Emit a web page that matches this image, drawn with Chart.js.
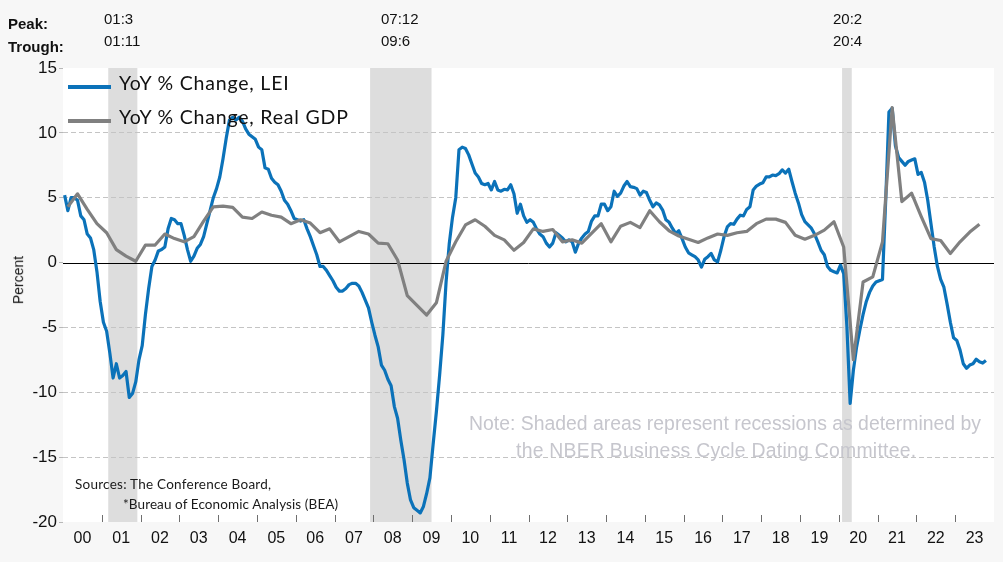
<!DOCTYPE html>
<html><head><meta charset="utf-8">
<script src="https://cdn.jsdelivr.net/npm/chart.js@4.4.0/dist/chart.umd.min.js"></script>
<style>
html,body{margin:0;padding:0;background:#f7f7f7;}
#wrap{position:relative;width:1003px;height:562px;overflow:hidden;background:#f7f7f7;}
#c{position:absolute;left:0;top:0;}
.t{position:absolute;white-space:nowrap;line-height:1;color:#111;}
.hdr{font-family:"Liberation Sans",Arial,sans-serif;font-size:15px;}
.b{font-weight:bold;}
.leg{font-family:Lato,"Open Sans",sans-serif;font-size:19.5px;letter-spacing:0.8px;color:#111;}
.sw{position:absolute;width:43px;height:4px;}
.note{font-family:"Liberation Sans",Arial,sans-serif;font-size:19.4px;color:#c6c6cd;}
.src{font-family:Lato,"Open Sans",sans-serif;font-size:13.5px;letter-spacing:0.25px;color:#1a1a1a;}
.ytitle{font-family:"Liberation Sans",Arial,sans-serif;font-size:14px;color:#111;transform:rotate(-90deg);transform-origin:center center;}
</style></head>
<body>
<div id="wrap">
<canvas id="c" width="1003" height="562"></canvas>
<div class="t hdr b" style="left:8px;top:16px">Peak:</div>
<div class="t hdr b" style="left:8px;top:39px">Trough:</div>
<div class="t hdr" style="left:104px;top:11px">01:3</div>
<div class="t hdr" style="left:104px;top:33px">01:11</div>
<div class="t hdr" style="left:381px;top:11px">07:12</div>
<div class="t hdr" style="left:381px;top:33px">09:6</div>
<div class="t hdr" style="left:833px;top:11px">20:2</div>
<div class="t hdr" style="left:833px;top:33px">20:4</div>
<div class="sw" style="left:68px;top:85px;background:#0b72b9"></div>
<div class="sw" style="left:68px;top:119px;background:#808080"></div>
<div class="t leg" style="left:119px;top:73px">YoY % Change, LEI</div>
<div class="t leg" style="left:119px;top:107px">YoY % Change, Real GDP</div>
<div class="t note" style="left:469px;top:414px">Note: Shaded areas represent recessions as determined by</div>
<div class="t note" style="left:516px;top:441px;letter-spacing:0.25px">the NBER Business Cycle Dating Committee.</div>
<div class="t src" style="left:75px;top:478px">Sources: The Conference Board,</div>
<div class="t src" style="left:123px;top:498px;letter-spacing:0.1px">*Bureau of Economic Analysis (BEA)</div>
<div class="t ytitle" style="left:-6px;top:273px">Percent</div>
</div>
<script>
// Year tick labels (one per calendar year, 2000..2023)
const yearLabels = ['00','01','02','03','04','05','06','07','08','09','10','11','12','13','14','15','16','17','18','19','20','21','22','23'];

// NBER recessions (yy:mm)
const recessionPeaks = ['01:3','07:12','20:2'];
const recessionTroughs = ['01:11','09:6','20:4'];

// LEI, YoY % change, monthly from Jan 2000
const lei = [
  5.2, 4.0, 5.0, 5.0, 4.8, 3.6, 3.3, 2.2, 1.9, 1.0, -0.7, -3.0,
  -4.6, -5.3, -7.0, -8.9, -7.8, -8.9, -8.7, -8.4, -10.4, -10.1, -9.2, -7.5,
  -6.4, -4.0, -2.0, -0.3, 0.2, 0.9, 1.0, 1.2, 2.6, 3.4, 3.3, 3.0,
  3.0, 2.1, 1.0, 0.1, 0.5, 1.1, 1.4, 2.0, 3.0, 4.0, 5.0, 5.7,
  6.6, 8.0, 9.6, 11.0, 11.2, 11.0, 11.2, 10.9, 10.3, 9.9, 9.7, 9.5,
  8.9, 8.7, 7.3, 7.2, 6.5, 6.2, 6.0, 5.5, 4.8, 4.5, 4.0, 3.4,
  3.3, 3.2, 3.3, 2.6, 2.0, 1.3, 0.6, -0.3, -0.3, -0.6, -1.0, -1.4,
  -1.9, -2.2, -2.2, -2.0, -1.7, -1.6, -1.6, -1.8, -2.3, -2.9, -3.5, -4.6,
  -5.6, -6.5, -7.9, -8.3, -9.0, -9.5, -11.1, -12.0, -13.7, -15.2, -17.0, -18.3,
  -18.9, -19.1, -19.3, -18.8, -17.8, -16.6, -14.0, -11.5, -8.7, -5.6, -1.5, 1.5,
  3.5, 5.0, 8.7, 8.9, 8.8, 8.3, 7.6, 6.9, 6.6, 6.1, 6.0, 6.1,
  5.6, 6.25, 5.6, 5.5, 5.65, 5.6, 6.0, 5.3, 3.8, 4.5, 3.6, 3.1,
  3.3, 3.1, 2.6, 2.2, 2.0, 1.5, 1.2, 1.5, 2.3, 2.1, 1.9, 1.6,
  1.75, 1.6, 0.8, 1.5, 1.9, 2.2, 2.4, 3.2, 3.6, 3.6, 4.5, 4.5,
  4.0, 4.3, 5.5, 5.1, 5.35, 5.9, 6.25, 5.85, 5.8, 5.7, 5.2, 5.5,
  5.4, 4.8, 4.3, 4.6, 4.45, 4.05, 3.3, 3.1, 2.65, 2.25, 2.45, 1.85,
  1.2, 0.75, 0.6, 0.45, 0.2, -0.35, 0.25, 0.45, 0.7, 0.2, 0.05, 0.95,
  2.0, 2.75, 3.0, 2.95, 3.35, 3.65, 3.6, 4.1, 4.3, 5.6, 5.9, 6.05,
  6.15, 6.6, 6.6, 6.75, 6.7, 6.85, 7.15, 6.9, 7.2, 6.25, 5.35, 4.6,
  3.7, 3.15, 2.9, 2.65, 2.2, 1.6, 0.95, 0.6, -0.3, -0.6, -0.7, -0.8,
  -0.2, -0.85, -4.95, -10.85, -8.3, -6.5, -5.2, -4.0, -3.0, -2.3, -1.8, -1.5,
  -1.4, -1.3, 4.8, 11.6, 11.9, 9.0, 8.1, 7.8, 7.5, 7.8, 7.9, 8.0,
  6.8, 6.95, 6.2, 4.8, 3.0, 1.2, -0.3, -1.3, -1.9, -3.2, -4.6, -5.8,
  -6.0, -6.75, -7.8, -8.15, -7.9, -7.8, -7.45, -7.65, -7.75, -7.55
];

// Real GDP, YoY % change, quarterly from 2000 Q1
const gdp = [
  4.3, 5.3, 4.1, 3.0,
  2.3, 1.0, 0.5, 0.1,
  1.35, 1.35, 2.2, 1.85,
  1.6, 2.0, 3.2, 4.3,
  4.35, 4.25, 3.5, 3.4,
  3.9, 3.65, 3.5, 3.0,
  3.3, 3.05, 2.3, 2.6,
  1.6, 2.0, 2.4, 2.2,
  1.5, 1.45, 0.2, -2.55,
  -3.3, -4.05, -3.1, 0.1,
  1.6, 2.9, 3.3, 2.8,
  2.1, 1.75, 0.95, 1.55,
  2.6, 2.4, 2.55, 1.6,
  1.75, 1.5, 2.25, 3.0,
  1.6, 2.8, 3.1, 2.7,
  4.0, 3.15, 2.45, 2.05,
  1.8, 1.55, 1.9, 2.2,
  2.1, 2.3, 2.4, 3.0,
  3.35, 3.35, 3.1, 2.1,
  1.8, 2.1, 2.5, 3.15,
  1.2, -7.5, -1.5, -1.1,
  1.6, 11.95, 4.7, 5.35,
  3.55, 1.85, 1.7, 0.7,
  1.6, 2.35, 2.95
];

function ymToIndex(s){ const p = s.split(':'); return (+p[0])*12 + (+p[1]) - 1; }

const bandPlugin = {
  id: 'bands',
  beforeDraw(chart){
    const {ctx, chartArea:a, scales:{x}} = chart;
    ctx.save();
    ctx.fillStyle = '#ffffff';
    ctx.fillRect(a.left, a.top, a.right - a.left, a.bottom - a.top);
    ctx.fillStyle = '#dddddd';
    recessionPeaks.forEach((p, k) => {
      const x0 = x.getPixelForValue(ymToIndex(p) - 0.5);
      const x1 = x.getPixelForValue(ymToIndex(recessionTroughs[k]) + 0.5);
      ctx.fillRect(x0, a.top, x1 - x0, a.bottom - a.top);
    });
    ctx.restore();
  },
  beforeDatasetsDraw(chart){
    const {ctx, chartArea:a, scales:{x, y}} = chart;
    ctx.save();
    const y0 = Math.round(y.getPixelForValue(0)) + 0.5;
    ctx.strokeStyle = '#000';
    ctx.lineWidth = 1;
    ctx.beginPath(); ctx.moveTo(a.left, y0); ctx.lineTo(a.right, y0); ctx.stroke();
    ctx.strokeStyle = '#6f6f6f';
    for (let k = 1; k < yearLabels.length; k++) {
      const xp = Math.round(x.getPixelForValue(12*k - 0.5)) + 0.5;
      ctx.beginPath(); ctx.moveTo(xp, a.bottom); ctx.lineTo(xp, a.bottom - 7); ctx.stroke();
    }
    ctx.restore();
  }
};

new Chart(document.getElementById('c'), {
  type: 'line',
  data: {
    datasets: [
      { label: 'YoY % Change, LEI', data: lei.map((v,i)=>({x:i, y:v})),
        borderColor: '#0b72b9', borderWidth: 3.2, pointRadius: 0, tension: 0, order: 1,
        borderJoinStyle: 'round' },
      { label: 'YoY % Change, Real GDP', data: gdp.map((v,q)=>({x:3*q+1, y:v})),
        borderColor: '#808080', borderWidth: 3.2, pointRadius: 0, tension: 0, order: 0,
        borderJoinStyle: 'round' }
    ]
  },
  options: {
    responsive: false, animation: false, devicePixelRatio: 1,
    layout: { padding: { top: 68, right: 9, left: 0, bottom: 0 } },
    plugins: { legend: { display: false }, tooltip: { enabled: false } },
    scales: {
      x: {
        type: 'linear', min: -0.5, max: 287.5,
        afterBuildTicks(s){ s.ticks = yearLabels.map((_,k)=>({value: 12*k + 5.5})); },
        afterFit(s){ s.height = 40; },
        ticks: { autoSkip: false, maxRotation: 0, padding: 7, color: '#111',
          font: { family: '"Liberation Sans", Arial, sans-serif', size: 16 },
          callback(v, i){ return yearLabels[i]; } },
        grid: { display: false, drawTicks: false },
        border: { display: false }
      },
      y: {
        min: -20, max: 15,
        afterFit(s){ s.width = 63; },
        ticks: { stepSize: 5, padding: 2, color: '#111',
          font: { family: '"Liberation Sans", Arial, sans-serif', size: 17 } },
        grid: {
          color: (c) => (c.tick && (c.tick.value === 0 || c.tick.value === 15 || c.tick.value === -20)) ? 'rgba(0,0,0,0)' : '#c4c4c4',
          tickColor: '#b8b8b8', tickLength: 4, lineWidth: 1
        },
        border: { display: false, dash: [5, 3] }
      }
    }
  },
  plugins: [bandPlugin]
});
</script>
</body></html>
